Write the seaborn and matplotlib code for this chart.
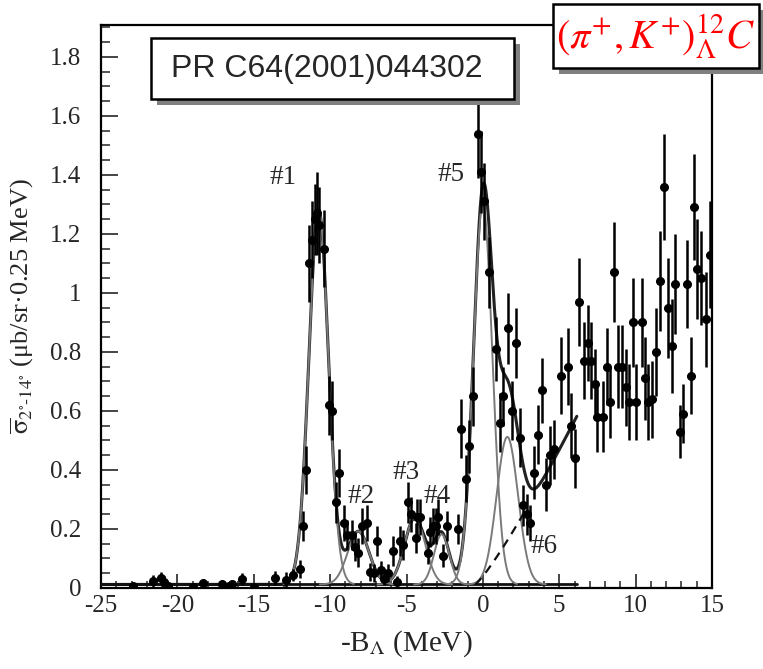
import matplotlib
matplotlib.use("Agg")
import matplotlib.pyplot as plt
import numpy as np
import seaborn as sns
from matplotlib.patches import Rectangle
from matplotlib.ticker import FuncFormatter, MultipleLocator

# measured spectrum: -B_Lambda (MeV), cross section, error
energy = [
    -22.9, -21.6, -21.1, -20.9, -20.6, -19.0, -18.3, -17.1, -16.6, -16.4,
    -15.8, -15.0, -13.6, -12.9, -12.4, -12.0, -11.8, -11.6, -11.4, -11.2,
    -11.0, -10.85, -10.7, -10.4, -10.1, -9.85, -9.6, -9.4, -9.1, -8.9,
    -8.6, -8.4, -8.2, -7.9, -7.6, -7.4, -7.1, -6.9, -6.65, -6.5,
    -6.2, -5.9, -5.6, -5.4, -5.2, -4.9, -4.7, -4.4, -4.3, -4.1,
    -3.6, -3.45, -3.25, -3.05, -2.95, -2.6, -2.35, -1.6, -1.4, -1.1,
    -0.9, -0.65, -0.35, -0.15, 0.1, 0.4, 0.85, 1.1, 1.35, 1.65,
    1.9, 2.15, 2.4, 2.65, 2.9, 3.1, 3.35, 3.6, 3.85, 4.1,
    4.4, 4.65, 5.1, 5.55, 5.75, 6.05, 6.3, 6.6, 6.85, 7.1,
    7.35, 7.5, 7.85, 8.1, 8.35, 8.6, 8.85, 9.1, 9.35, 9.55,
    9.8, 10.05, 10.4, 10.6, 10.8, 11.05, 11.35, 11.6, 11.85, 12.1,
    12.35, 12.6, 12.9, 13.1, 13.35, 13.6, 13.85, 14.05, 14.3, 14.6,
    14.85,
]
sigma = [
    0.007, 0.025, 0.035, 0.02, 0.008, 0.004, 0.016, 0.013, 0.007, 0.013,
    0.031, 0.003, 0.034, 0.028, 0.044, 0.065, 0.21, 0.40, 1.10, 1.18,
    1.25, 1.27, 1.23, 1.15, 0.62, 0.60, 0.29, 0.39, 0.22, 0.18,
    0.18, 0.14, 0.12, 0.21, 0.22, 0.055, 0.05, 0.16, 0.06, 0.03,
    0.05, 0.125, 0.02, 0.16, 0.145, 0.29, 0.25, 0.17, 0.24, 0.24,
    0.12, 0.19, 0.21, 0.21, 0.24, 0.11, 0.21, 0.20, 0.54, 0.37,
    0.48, 0.65, 1.54, 1.41, 1.31, 1.07, 0.81, 0.56, 0.65, 0.88,
    0.60, 0.83, 0.51, 0.28, 0.25, 0.22, 0.39, 0.52, 0.67, 0.35,
    0.45, 0.47, 0.72, 0.75, 0.55, 0.44, 0.97, 0.77, 0.83, 0.77,
    0.69, 0.58, 0.58, 0.75, 0.63, 1.07, 0.75, 0.75, 0.68, 0.63,
    0.90, 0.63, 0.90, 0.71, 0.63, 0.64, 0.80, 1.04, 1.36, 0.95,
    0.82, 1.03, 0.53, 0.59, 1.03, 0.72, 1.29, 1.08, 1.05, 0.91,
    1.13,
]
sigma_err = [
    0.01, 0.02, 0.02, 0.02, 0.01, 0.01, 0.015, 0.015, 0.01, 0.015,
    0.02, 0.01, 0.025, 0.025, 0.02, 0.03, 0.05, 0.08, 0.13, 0.13,
    0.12, 0.14, 0.13, 0.13, 0.10, 0.10, 0.07, 0.08, 0.06, 0.05,
    0.05, 0.05, 0.05, 0.06, 0.06, 0.03, 0.03, 0.05, 0.03, 0.02,
    0.03, 0.05, 0.02, 0.05, 0.05, 0.07, 0.06, 0.05, 0.06, 0.06,
    0.04, 0.05, 0.06, 0.06, 0.06, 0.04, 0.05, 0.05, 0.10, 0.08,
    0.09, 0.10, 0.15, 0.14, 0.13, 0.12, 0.11, 0.10, 0.10, 0.12,
    0.10, 0.12, 0.10, 0.07, 0.07, 0.06, 0.09, 0.10, 0.11, 0.09,
    0.10, 0.10, 0.13, 0.13, 0.11, 0.10, 0.15, 0.13, 0.13, 0.13,
    0.12, 0.12, 0.12, 0.13, 0.12, 0.17, 0.14, 0.14, 0.13, 0.13,
    0.15, 0.13, 0.15, 0.14, 0.13, 0.13, 0.15, 0.17, 0.18, 0.17,
    0.16, 0.17, 0.09, 0.10, 0.15, 0.13, 0.18, 0.17, 0.16, 0.16,
    0.18,
]

# fitted peaks
peak_names = ["#1", "#2", "#3", "#4", "#5", "#6"]
peak_center = [-10.75, -8.15, -4.45, -2.7, 0.0, 1.6]
peak_height = [1.27, 0.18, 0.225, 0.17, 1.29, 0.50]
peak_width = [0.64, 0.70, 0.68, 0.50, 0.62, 0.70]

# flat background + quasi-free continuum
baseline = 0.012
qf_threshold = -0.5
qf_scale = 0.0628
qf_power = 1.164
fit_end = 6.15

W, H = 763, 669


def gauss(e, c, h, w):
    return h * np.exp(-((e - c) ** 2) / (2 * w ** 2))


def quasi_free(e):
    d = np.clip(e - qf_threshold, 0, None)
    return qf_scale * d ** qf_power


def fig_box(x0, y0, x1, y1):
    return (x0 / W, 1 - y1 / H), (x1 - x0) / W, (y1 - y0) / H


sns.set_style("ticks")
plt.rcParams["font.family"] = ["Liberation Serif", "DejaVu Serif"]
plt.rcParams["mathtext.fontset"] = "stix"
plt.rcParams["axes.unicode_minus"] = False

fig = plt.figure(figsize=(W / 100, H / 100), dpi=100)
ax = fig.add_axes([101 / W, 1 - 588 / H, 611 / W, 563 / H])

e = np.linspace(-25, fit_end, 2000)
total = baseline + quasi_free(e)
for c, h, w in zip(peak_center, peak_height, peak_width):
    total = total + gauss(e, c, h, w)

sns.lineplot(x=e, y=total, ax=ax, color="#222222", lw=2.2, zorder=3)
ax.plot([-25, fit_end], [baseline, baseline], color="#111111", lw=2, zorder=3)

for c, h, w in zip(peak_center, peak_height, peak_width):
    ee = np.linspace(c - 3.6 * w, c + 3.6 * w, 300)
    sns.lineplot(x=ee, y=baseline + gauss(ee, c, h, w), ax=ax,
                 color="#7a7a7a", lw=1.4, zorder=4)

eq = np.linspace(qf_threshold, 2.7, 200)
sns.lineplot(x=eq, y=baseline + quasi_free(eq), ax=ax, color="#111111",
             lw=1.6, linestyle=(0, (4, 3)), zorder=4)

ax.errorbar(energy, sigma, yerr=sigma_err, fmt="o", color="black", ms=5.5,
            elinewidth=1.8, capsize=0, zorder=5)

label_pos = [(-13.1, 1.39), (-8.0, 0.31), (-5.0, 0.39), (-3.0, 0.31),
             (-2.05, 1.40), (4.0, 0.14)]
for name, (x, y) in zip(peak_names, label_pos):
    ax.text(x, y, name, fontsize=19.5, ha="center", va="center", zorder=6)

ax.set_xlim(-25, 15)
ax.set_ylim(0, 1.908)
ax.xaxis.set_major_locator(MultipleLocator(5))
ax.xaxis.set_minor_locator(MultipleLocator(1))
ax.yaxis.set_major_locator(MultipleLocator(0.2))
ax.yaxis.set_minor_locator(MultipleLocator(0.05))
ax.yaxis.set_major_formatter(FuncFormatter(lambda v, p: f"{v:g}"))
ax.tick_params(axis="x", which="major", direction="in", length=10, width=1.2,
               labelsize=18, pad=5)
ax.tick_params(axis="x", which="minor", direction="in", length=5, width=1.1)
ax.tick_params(axis="y", which="major", direction="in", length=12, width=1.2,
               labelsize=18, pad=14)
ax.tick_params(axis="y", which="minor", direction="in", length=6.5, width=1.1)
for s in ax.spines.values():
    s.set_linewidth(1.6)
    s.set_color("black")

ax.set_xlabel(r"-B$_{\Lambda}$ (MeV)", fontsize=21, labelpad=8)
ax.set_ylabel(r"$\overline{\mathrm{\sigma}}_{\mathrm{2^{\circ}\text{-}14^{\circ}}}$ (μb/sr·0.25 MeV)",
              fontsize=19, labelpad=10)

# reference box
xy, bw, bh = fig_box(157, 44, 520, 105)
fig.add_artist(Rectangle(xy, bw, bh, transform=fig.transFigure,
                         facecolor="#808080", edgecolor="none", zorder=10))
xy, bw, bh = fig_box(151, 38, 514, 99)
fig.add_artist(Rectangle(xy, bw, bh, transform=fig.transFigure,
                         facecolor="white", edgecolor="black", lw=1.8, zorder=11))
fig.text(327 / W, 1 - 69 / H, "PR C64(2001)044302", fontsize=23,
         family=["Liberation Sans", "DejaVu Sans"], ha="center", va="center",
         zorder=12)

# reaction box
xy, bw, bh = fig_box(559, 10, 766, 74)
fig.add_artist(Rectangle(xy, bw, bh, transform=fig.transFigure,
                         facecolor="#808080", edgecolor="none", zorder=10))
xy, bw, bh = fig_box(553, 4, 759, 68)
fig.add_artist(Rectangle(xy, bw, bh, transform=fig.transFigure,
                         facecolor="white", edgecolor="black", lw=1.8, zorder=11))
fig.text(656 / W, 1 - 37 / H, r"$\left(\pi^{+},K^{+}\right)_{\Lambda}^{12}C$",
         fontsize=29, color="red", ha="center", va="center", zorder=12)

fig.savefig("out.png", dpi=100)
